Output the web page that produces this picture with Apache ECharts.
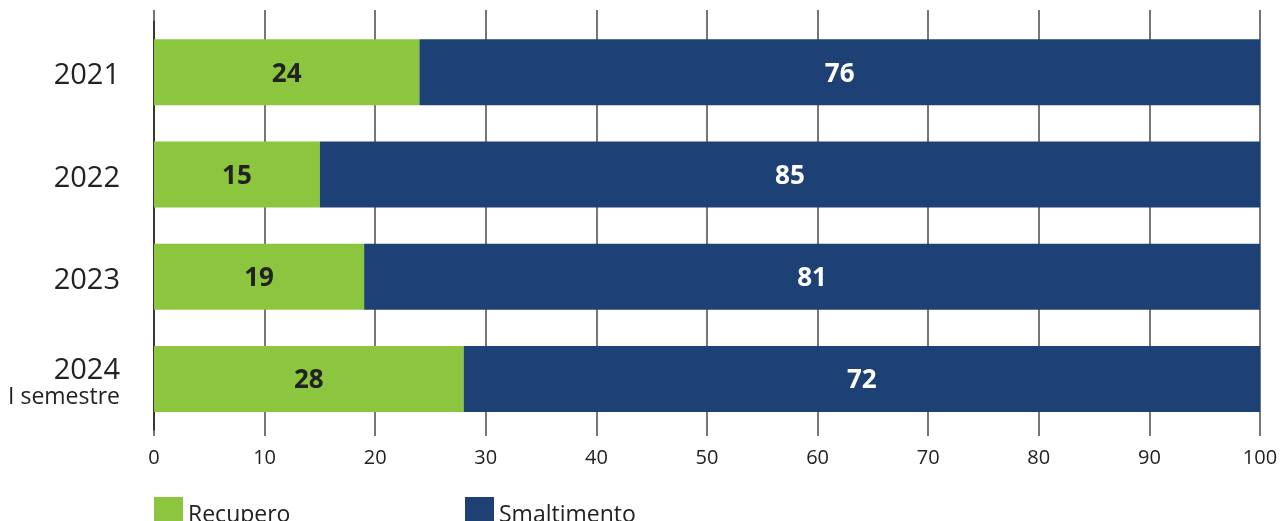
<!DOCTYPE html>
<html>
<head>
<meta charset="utf-8">
<style>
  html, body { margin: 0; padding: 0; background: #ffffff; }
  #chart { width: 1283px; height: 521px; }
</style>
<script src="https://cdn.jsdelivr.net/npm/echarts@6/dist/echarts.min.js"></script>
</head>
<body>
<div id="chart"></div>
<script>
// Categories, top to bottom
const categories = ['2021', '2022', '2023', '2024\nI semestre'];
// Share of waste by destination (%)
const recupero = [24, 15, 19, 28];
const smaltimento = [76, 85, 81, 72];
// Value axis ticks
const xMin = 0, xMax = 100, xStep = 10;

const FONT = '"Open Sans", "Noto Sans", sans-serif';
const GREEN = '#8cc63f';
const BLUE = '#1e4175';
const GRIDCOL = '#4a4a4a';

const chart = echarts.init(document.getElementById('chart'), null, { renderer: 'canvas' });

// legend entry text, nudged slightly below the swatch centre
const legendText = {
  fontFamily: FONT, fontSize: 23, color: '#222',
  rich: { t: { fontFamily: FONT, fontSize: 23, color: '#222', padding: [8, 0, 0, 0] } }
};
const legendFmt = function (name) { return '{t|' + name + '}'; };

chart.setOption({
  animation: false,
  textStyle: { fontFamily: FONT },
  grid: { left: 154, right: 23, top: 21, bottom: 91, containLabel: false },
  legend: [
    {
      data: ['Recupero'], left: 154, top: 497, padding: 0, itemWidth: 29, itemHeight: 29, itemGap: 8,
      icon: 'rect', formatter: legendFmt, textStyle: legendText
    },
    {
      data: ['Smaltimento'], left: 465, top: 497, padding: 0, itemWidth: 29, itemHeight: 29, itemGap: 8,
      icon: 'rect', formatter: legendFmt, textStyle: legendText
    }
  ],
  xAxis: [
    {
      type: 'value', position: 'bottom', min: xMin, max: xMax, interval: xStep,
      axisLine: { show: false },
      axisTick: { show: true, length: 6, lineStyle: { color: GRIDCOL, width: 1.5 } },
      axisLabel: { margin: 18, fontSize: 20, color: '#222', fontFamily: FONT },
      splitLine: { show: true, lineStyle: { color: GRIDCOL, width: 1.5 } }
    },
    {
      // short tick marks above the plot area
      type: 'value', position: 'top', min: xMin, max: xMax, interval: xStep,
      axisLine: { show: false },
      axisTick: { show: true, length: 11, lineStyle: { color: GRIDCOL, width: 1.5 } },
      axisLabel: { show: false },
      splitLine: { show: false }
    }
  ],
  yAxis: {
    type: 'category', data: categories, inverse: true,
    axisLine: { show: true, lineStyle: { color: '#222', width: 1.5 } },
    axisTick: { show: false },
    axisLabel: {
      margin: 34, align: 'right', color: '#222', fontSize: 29, fontFamily: FONT,
      padding: [8, 0, 0, 0],
      formatter: function (v) {
        const parts = v.split('\n');
        if (parts.length > 1) return '{a|' + parts[0] + '}\n{b|' + parts[1] + '}';
        return '{a|' + v + '}';
      },
      rich: {
        a: { fontSize: 29, lineHeight: 29, color: '#222', fontFamily: FONT, align: 'right' },
        b: { fontSize: 23, lineHeight: 25, color: '#222', fontFamily: FONT, align: 'right' }
      }
    }
  },
  series: [
    {
      name: 'Recupero', type: 'bar', stack: 'tot', data: recupero, barWidth: 66,
      itemStyle: { color: GREEN },
      label: { show: true, position: 'inside', offset: [0, 2], color: '#222', fontWeight: 'bold', fontSize: 26, fontFamily: FONT }
    },
    {
      name: 'Smaltimento', type: 'bar', stack: 'tot', data: smaltimento, barWidth: 66,
      itemStyle: { color: BLUE },
      label: { show: true, position: 'inside', offset: [0, 2], color: '#ffffff', fontWeight: 'bold', fontSize: 26, fontFamily: FONT }
    }
  ]
});
</script>
</body>
</html>
